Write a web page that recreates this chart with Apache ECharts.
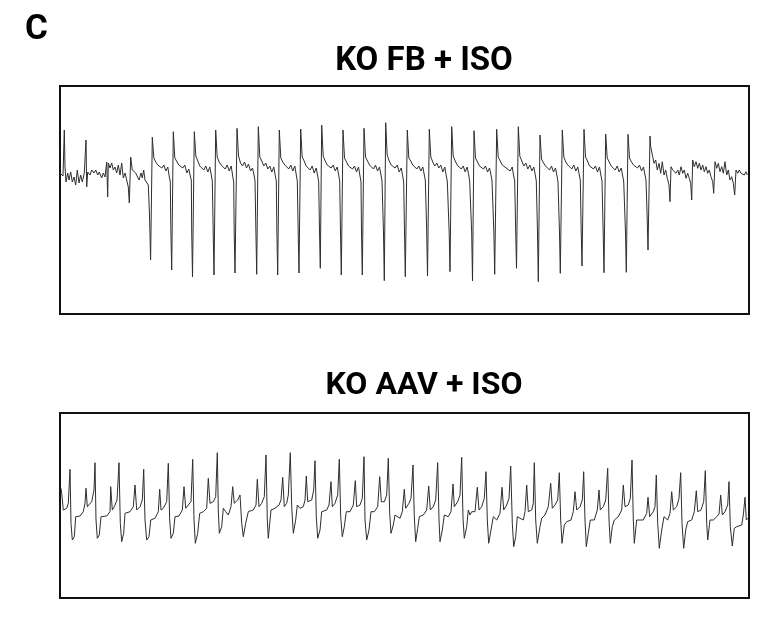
<!DOCTYPE html>
<html>
<head>
<meta charset="utf-8">
<script src="https://cdn.jsdelivr.net/npm/echarts@6/dist/echarts.min.js"></script>
<style>
html,body{margin:0;padding:0;background:#fff;}
#chart{width:761px;height:620px;}
</style>
</head>
<body>
<div id="chart"></div>
<script>
// Panel labels
var panelLetter = 'C';
var panelTitles = ['KO FB + ISO', 'KO AAV + ISO'];

// KO FB + ISO trace: [time (s), voltage (mV)]
var fbTrace = [
[0.000,0.00],[0.017,0.01],[0.030,-0.03],[0.043,0.43],[0.050,0.06],[0.060,-0.09],[0.077,0.00],[0.090,-0.07],
[0.107,0.01],[0.123,-0.09],[0.140,-0.04],[0.157,-0.12],[0.173,0.03],[0.190,-0.10],[0.207,-0.02],[0.223,-0.09],
[0.243,0.00],[0.260,0.33],[0.267,-0.14],[0.277,0.01],[0.300,-0.02],[0.317,0.03],[0.340,0.00],[0.357,0.03],
[0.377,-0.02],[0.393,0.01],[0.417,-0.05],[0.433,0.00],[0.450,-0.04],[0.467,0.11],[0.477,-0.24],[0.483,0.10],
[0.500,0.05],[0.517,0.10],[0.533,0.03],[0.550,0.06],[0.567,0.00],[0.583,0.08],[0.600,-0.02],[0.617,0.10],
[0.633,-0.05],[0.650,0.00],[0.667,-0.07],[0.683,-0.14],[0.693,-0.30],[0.707,0.16],[0.723,0.03],[0.743,0.05],
[0.757,0.00],[0.777,-0.02],[0.790,-0.07],[0.810,0.00],[0.823,-0.05],[0.837,0.03],[0.850,-0.07],[0.867,-0.05],
[0.883,-0.12],[0.895,-0.42],[0.906,-0.87],
[0.923,0.357],[0.938,0.15],[0.958,0.11],[0.978,0.08],[0.998,0.10],[1.018,0.05],[1.038,0.08],[1.058,0.02],[1.078,0.06],[1.093,-0.04],[1.103,-0.09],[1.109,-0.60],[1.117,-0.97],
[1.133,0.413],[1.148,0.15],[1.168,0.13],[1.188,0.08],[1.208,0.10],[1.228,0.05],[1.248,0.08],[1.268,0.00],[1.288,0.04],[1.303,-0.03],[1.313,-0.07],[1.317,-0.58],[1.325,-1.04],
[1.343,0.413],[1.358,0.17],[1.378,0.12],[1.398,0.07],[1.418,0.09],[1.438,0.03],[1.458,0.07],[1.478,0.01],[1.498,0.06],[1.513,-0.02],[1.523,-0.08],[1.532,-0.58],[1.540,-1.02],
[1.557,0.43],[1.572,0.16],[1.592,0.11],[1.612,0.08],[1.632,0.10],[1.652,0.04],[1.672,0.08],[1.692,0.02],[1.712,0.07],[1.727,-0.03],[1.737,-0.09],[1.742,-0.60],[1.750,-1.00],
[1.770,0.447],[1.785,0.17],[1.805,0.10],[1.825,0.07],[1.845,0.11],[1.865,0.05],[1.885,0.09],[1.905,0.02],[1.925,0.05],[1.940,-0.02],[1.950,-0.08],[1.959,-0.58],[1.967,-1.013],
[1.983,0.463],[1.998,0.16],[2.018,0.12],[2.038,0.07],[2.058,0.10],[2.078,0.04],[2.098,0.07],[2.118,0.01],[2.138,0.06],[2.153,-0.03],[2.163,-0.08],[2.169,-0.60],[2.177,-1.02],
[2.193,0.43],[2.208,0.15],[2.228,0.11],[2.248,0.08],[2.268,0.10],[2.288,0.04],[2.308,0.08],[2.328,0.02],[2.348,0.07],[2.363,-0.02],[2.373,-0.08],[2.382,-0.59],[2.390,-1.00],
[2.407,0.44],[2.422,0.16],[2.442,0.12],[2.462,0.07],[2.482,0.09],[2.502,0.03],[2.522,0.07],[2.542,0.00],[2.562,0.05],[2.577,-0.03],[2.587,-0.09],[2.595,-0.58],[2.603,-0.953],
[2.617,0.48],[2.632,0.17],[2.652,0.12],[2.672,0.08],[2.692,0.10],[2.712,0.05],[2.732,0.08],[2.752,0.02],[2.772,0.06],[2.787,-0.02],[2.797,-0.08],[2.805,-0.60],[2.813,-1.02],
[2.830,0.43],[2.845,0.15],[2.865,0.11],[2.885,0.07],[2.905,0.09],[2.925,0.04],[2.945,0.07],[2.965,0.01],[2.985,0.06],[3.000,-0.03],[3.010,-0.09],[3.015,-0.60],[3.023,-1.02],
[3.040,0.447],[3.055,0.16],[3.075,0.12],[3.095,0.08],[3.115,0.10],[3.135,0.04],[3.155,0.08],[3.175,0.02],[3.195,0.06],[3.210,-0.02],[3.220,-0.08],[3.235,-0.60],[3.243,-1.077],
[3.257,0.503],[3.272,0.18],[3.292,0.12],[3.312,0.08],[3.332,0.10],[3.352,0.05],[3.372,0.08],[3.392,0.01],[3.412,0.05],[3.427,-0.03],[3.437,-0.09],[3.445,-0.60],[3.453,-1.037],
[3.473,0.43],[3.488,0.15],[3.508,0.12],[3.528,0.08],[3.548,0.09],[3.568,0.04],[3.588,0.07],[3.608,0.02],[3.628,0.06],[3.643,-0.02],[3.653,-0.07],[3.667,-0.58],[3.675,-1.03],
[3.693,0.437],[3.708,0.16],[3.728,0.11],[3.748,0.07],[3.768,0.10],[3.788,0.05],[3.808,0.08],[3.828,0.01],[3.848,0.06],[3.863,-0.03],[3.873,-0.08],[3.892,-0.60],[3.900,-0.987],
[3.917,0.463],[3.932,0.17],[3.952,0.12],[3.972,0.08],[3.992,0.10],[4.012,0.04],[4.032,0.07],[4.052,0.01],[4.072,0.06],[4.087,-0.02],[4.097,-0.08],[4.117,-0.60],[4.125,-1.08],
[4.140,0.423],[4.155,0.15],[4.175,0.11],[4.195,0.07],[4.215,0.09],[4.235,0.04],[4.255,0.07],[4.275,0.01],[4.295,0.05],[4.310,-0.02],[4.320,-0.08],[4.339,-0.60],[4.347,-1.013],
[4.367,0.437],[4.382,0.16],[4.402,0.12],[4.422,0.08],[4.442,0.10],[4.462,0.05],[4.482,0.07],[4.502,0.02],[4.522,0.06],[4.537,-0.03],[4.547,-0.08],[4.557,-0.58],[4.565,-0.953],
[4.583,0.463],[4.598,0.17],[4.618,0.12],[4.638,0.07],[4.658,0.10],[4.678,0.04],[4.698,0.08],[4.718,0.02],[4.738,0.06],[4.753,-0.02],[4.763,-0.08],[4.775,-0.60],[4.783,-1.087],
[4.800,0.38],[4.815,0.14],[4.835,0.10],[4.855,0.07],[4.875,0.09],[4.895,0.03],[4.915,0.07],[4.935,0.01],[4.955,0.05],[4.970,-0.03],[4.980,-0.09],[4.995,-0.60],[5.003,-1.003],
[5.023,0.43],[5.038,0.16],[5.058,0.11],[5.078,0.08],[5.098,0.10],[5.118,0.04],[5.138,0.08],[5.158,0.02],[5.178,0.06],[5.193,-0.02],[5.203,-0.07],[5.212,-0.58],[5.220,-0.93],
[5.240,0.437],[5.255,0.16],[5.275,0.12],[5.295,0.07],[5.315,0.09],[5.335,0.04],[5.355,0.07],[5.375,0.01],[5.395,0.06],[5.410,-0.03],[5.420,-0.08],[5.432,-0.60],[5.440,-0.997],
[5.457,0.39],[5.472,0.15],[5.492,0.11],[5.512,0.07],[5.532,0.09],[5.552,0.03],[5.572,0.07],[5.592,0.01],[5.612,0.05],[5.627,-0.03],[5.637,-0.08],[5.655,-0.60],[5.663,-0.993],
[5.680,0.387],[5.695,0.15],[5.715,0.11],[5.735,0.08],[5.755,0.10],[5.775,0.05],[5.795,0.08],[5.815,0.02],[5.835,0.06],[5.850,-0.02],[5.860,-0.07],[5.872,-0.45],[5.880,-0.77],
[5.900,0.37],[5.907,0.263],[5.927,0.163],[5.940,0.097],[5.957,0.13],[5.973,0.03],[5.990,0.097],[6.007,-0.003],[6.023,0.113],[6.040,-0.02],[6.057,0.03],[6.073,-0.053],
[6.090,-0.12],[6.100,-0.287],[6.110,0.063],[6.127,0.03],[6.143,0.047],[6.160,-0.003],[6.177,0.03],[6.193,-0.02],[6.210,0.063],[6.227,-0.003],[6.243,0.03],[6.260,-0.053],
[6.277,-0.003],[6.293,-0.053],[6.307,-0.103],[6.317,-0.27],[6.327,0.13],[6.343,0.063],[6.360,0.113],[6.377,0.047],[6.393,0.097],[6.410,0.03],[6.427,0.08],[6.443,0.013],
[6.460,0.063],[6.477,-0.003],[6.493,0.03],[6.510,-0.037],[6.527,-0.087],[6.537,-0.203],[6.550,0.113],[6.567,0.047],[6.583,0.097],[6.600,0.013],[6.617,0.063],[6.633,-0.003],
[6.650,0.113],[6.667,-0.02],[6.683,0.03],[6.700,-0.07],[6.717,-0.037],[6.733,-0.103],[6.747,-0.22],[6.760,0.03],[6.777,-0.003],[6.793,0.03],[6.810,-0.003],[6.827,0.013],
[6.843,-0.02],[6.860,0.013],[6.873,-0.02]
];

// KO AAV + ISO trace: [time (s), voltage (mV)]
var aavTrace = [
[0.010,0.217],[0.017,0.167],[0.033,0.000],[0.067,0.017],[0.083,0.067],[0.100,0.407],[0.110,-0.133],[0.123,-0.300],[0.143,-0.267],[0.157,-0.067],
[0.200,-0.060],[0.233,-0.017],[0.250,0.067],[0.260,0.217],[0.273,0.033],[0.293,0.033],[0.317,0.083],[0.340,0.200],[0.350,0.473],[0.360,-0.100],
[0.373,-0.283],[0.393,-0.250],[0.410,-0.067],[0.467,-0.060],[0.500,-0.017],[0.507,0.233],[0.523,0.000],[0.543,0.033],[0.570,0.100],[0.590,0.473],
[0.603,-0.133],[0.617,-0.317],[0.637,-0.233],[0.650,-0.033],[0.700,-0.017],[0.733,0.033],[0.750,0.250],[0.767,0.000],[0.800,0.033],[0.823,0.100],
[0.837,0.407],[0.850,-0.100],[0.867,-0.300],[0.890,-0.267],[0.907,-0.100],[0.950,-0.083],[0.983,-0.017],[0.997,0.207],[1.010,0.000],[1.033,0.017],
[1.067,0.083],[1.083,0.467],[1.097,-0.100],[1.110,-0.283],[1.133,-0.233],[1.150,-0.067],[1.190,-0.060],[1.223,0.000],[1.240,0.233],[1.257,0.017],
[1.283,0.050],[1.310,0.083],[1.327,0.507],[1.340,-0.100],[1.353,-0.333],[1.377,-0.233],[1.397,-0.033],[1.433,-0.017],[1.467,0.017],[1.483,0.317],
[1.500,0.067],[1.533,0.083],[1.557,0.133],[1.573,0.573],[1.583,0.000],[1.593,-0.233],[1.617,-0.167],[1.633,0.017],[1.657,-0.017],[1.683,-0.050],
[1.710,0.033],[1.727,0.233],[1.743,0.067],[1.777,0.100],[1.800,0.150],[1.817,-0.133],[1.833,-0.267],[1.857,-0.133],[1.883,-0.017],[1.933,0.000],
[1.960,0.050],[1.973,0.307],[1.990,0.033],[2.017,0.067],[2.043,0.133],[2.060,0.550],[2.073,-0.100],[2.083,-0.283],[2.110,0.000],[2.150,0.017],
[2.190,0.050],[2.210,0.100],[2.227,0.327],[2.243,0.033],[2.267,0.067],[2.283,0.150],[2.303,0.573],[2.317,0.033],[2.333,-0.233],[2.357,-0.100],
[2.373,0.050],[2.400,0.017],[2.433,0.033],[2.450,0.100],[2.463,0.340],[2.477,0.083],[2.517,0.100],[2.537,0.200],[2.550,0.493],[2.563,-0.067],
[2.577,-0.283],[2.600,-0.200],[2.617,-0.017],[2.667,0.000],[2.690,0.050],[2.710,0.283],[2.723,0.033],[2.750,0.067],[2.777,0.150],[2.793,0.507],
[2.807,-0.067],[2.823,-0.267],[2.843,-0.167],[2.863,-0.017],[2.900,-0.017],[2.933,0.050],[2.953,0.293],[2.967,0.033],[3.000,0.050],[3.023,0.117],
[3.040,0.533],[3.050,-0.100],[3.067,-0.300],[3.090,-0.200],[3.110,-0.017],[3.143,-0.017],[3.177,0.033],[3.197,0.333],[3.213,0.083],[3.243,0.083],
[3.267,0.150],[3.283,0.517],[3.297,-0.033],[3.310,-0.233],[3.333,-0.150],[3.350,-0.050],[3.400,-0.083],[3.423,-0.017],[3.443,0.207],[3.457,0.017],
[3.490,0.067],[3.510,0.117],[3.530,0.450],[3.543,-0.067],[3.557,-0.317],[3.577,-0.183],[3.593,-0.067],[3.633,-0.050],[3.667,0.000],[3.687,0.240],
[3.703,0.000],[3.733,0.033],[3.757,0.100],[3.777,0.473],[3.790,-0.100],[3.800,-0.317],[3.823,-0.200],[3.843,-0.050],[3.883,-0.067],[3.910,-0.017],
[3.930,0.260],[3.943,0.033],[3.977,0.083],[4.000,0.150],[4.017,0.527],[4.030,-0.083],[4.043,-0.283],[4.067,-0.167],[4.083,0.000],[4.100,-0.050],
[4.117,-0.017],[4.150,-0.017],[4.173,0.227],[4.190,0.000],[4.217,0.033],[4.243,0.117],[4.260,0.383],[4.273,-0.100],[4.287,-0.333],[4.310,-0.200],
[4.333,-0.067],[4.367,-0.100],[4.400,-0.033],[4.420,0.227],[4.437,0.000],[4.467,0.050],[4.490,0.117],[4.507,0.440],[4.523,-0.133],[4.537,-0.367],
[4.557,-0.267],[4.573,-0.067],[4.583,-0.083],[4.633,-0.100],[4.650,-0.017],[4.667,0.250],[4.683,-0.017],[4.717,0.000],[4.733,0.067],[4.743,0.473],
[4.757,-0.100],[4.773,-0.333],[4.800,-0.167],[4.817,-0.083],[4.850,-0.050],[4.883,0.033],[4.907,0.267],[4.923,0.017],[4.950,0.050],[4.977,0.100],
[4.993,0.373],[5.007,-0.100],[5.020,-0.333],[5.043,-0.150],[5.067,-0.117],[5.110,-0.100],[5.133,-0.017],[5.150,0.183],[5.167,0.000],[5.200,0.033],
[5.223,0.100],[5.237,0.383],[5.250,-0.100],[5.263,-0.367],[5.283,-0.233],[5.303,-0.100],[5.343,-0.100],[5.373,0.000],[5.390,0.200],[5.403,0.000],
[5.433,0.033],[5.457,0.100],[5.477,0.417],[5.490,-0.100],[5.503,-0.333],[5.523,-0.167],[5.543,-0.100],[5.583,-0.067],[5.617,0.000],[5.633,0.250],
[5.650,0.033],[5.683,0.050],[5.703,0.117],[5.720,0.500],[5.733,-0.100],[5.743,-0.333],[5.767,-0.100],[5.790,-0.100],[5.833,-0.100],[5.867,-0.033],
[5.880,0.127],[5.897,-0.067],[5.933,-0.017],[5.950,0.033],[5.963,0.350],[5.977,-0.133],[5.993,-0.383],[6.017,-0.200],[6.040,-0.067],[6.077,-0.100],
[6.100,-0.033],[6.117,0.183],[6.133,0.000],[6.167,0.033],[6.190,0.117],[6.207,0.373],[6.220,-0.133],[6.237,-0.383],[6.257,-0.200],[6.277,-0.117],
[6.317,-0.100],[6.343,-0.017],[6.363,0.193],[6.377,-0.017],[6.410,0.000],[6.437,0.083],[6.453,0.393],[6.467,-0.133],[6.477,-0.300],[6.500,-0.100],
[6.533,-0.100],[6.567,-0.067],[6.590,-0.040],[6.607,0.150],[6.623,-0.050],[6.650,-0.017],[6.677,0.050],[6.690,0.283],[6.703,-0.167],[6.723,-0.360],
[6.743,-0.183],[6.767,-0.167],[6.817,-0.150],[6.833,-0.050],[6.850,0.127],[6.863,-0.100],[6.877,-0.083]
];

// axis ranges
var timeRange = [0, 6.89];
var fbVoltRange = [-1.41, 0.87];
var aavVoltRange = [-0.88, 0.97];

var chart = echarts.init(document.getElementById('chart'), null, {renderer: 'canvas'});
var titleFont = {fontFamily: 'Roboto', fontWeight: 'bold', color: '#000'};
var option = {
  animation: false,
  backgroundColor: '#fff',
  title: [
    {text: panelLetter, left: 25, top: 13, padding: 0, textStyle: Object.assign({fontSize: 35}, titleFont)},
    {text: panelTitles[0], left: 424, top: 45, padding: 0, textAlign: 'center', textStyle: Object.assign({fontSize: 33}, titleFont)},
    {text: panelTitles[1], left: 424, top: 370, padding: 0, textAlign: 'center', textStyle: Object.assign({fontSize: 32}, titleFont)}
  ],
  grid: [
    {left: 60, top: 86, width: 689, height: 228, show: true, borderColor: '#111', borderWidth: 2, backgroundColor: 'transparent'},
    {left: 60, top: 413, width: 689, height: 185, show: true, borderColor: '#111', borderWidth: 2, backgroundColor: 'transparent'}
  ],
  xAxis: [
    {type: 'value', gridIndex: 0, min: timeRange[0], max: timeRange[1], show: false},
    {type: 'value', gridIndex: 1, min: timeRange[0], max: timeRange[1], show: false}
  ],
  yAxis: [
    {type: 'value', gridIndex: 0, min: fbVoltRange[0], max: fbVoltRange[1], show: false},
    {type: 'value', gridIndex: 1, min: aavVoltRange[0], max: aavVoltRange[1], show: false}
  ],
  series: [
    {type: 'line', xAxisIndex: 0, yAxisIndex: 0, data: fbTrace, symbol: 'none', lineStyle: {color: '#2e2e2e', width: 1}},
    {type: 'line', xAxisIndex: 1, yAxisIndex: 1, data: aavTrace, symbol: 'none', lineStyle: {color: '#2e2e2e', width: 1}}
  ]
};
chart.setOption(option);
</script>
</body>
</html>
